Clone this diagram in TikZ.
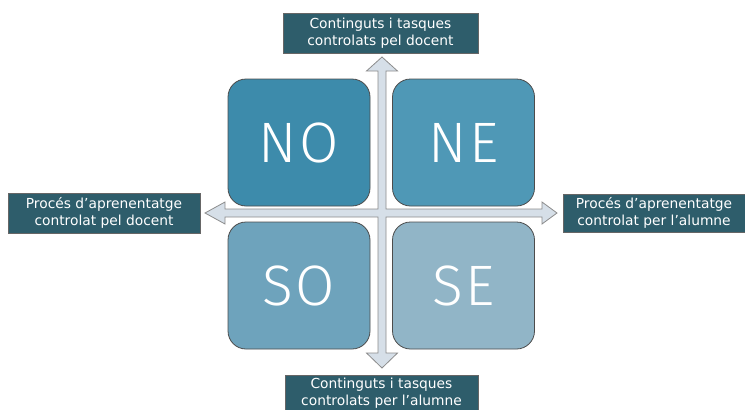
\documentclass[tikz,border=0pt]{standalone}
\usepackage{fontspec}
\setmainfont{DejaVu Sans}
\newfontfamily\bigfont[LetterSpace = 4]{Fira Sans Light}
\usetikzlibrary{shadows}

\definecolor{cno}{HTML}{3D8BAB}
\definecolor{cne}{HTML}{4F98B6}
\definecolor{cso}{HTML}{6EA3BC}
\definecolor{cse}{HTML}{91B5C7}
\definecolor{clab}{HTML}{2E5D6B}
\definecolor{carrow}{HTML}{D6DFE8}

\tikzset{
    quad/.style = {rounded corners = 18pt, minimum width = 142pt, minimum height = 127pt,
        draw = black!70, line width = 0.8pt, text = white,
        font = \bigfont\fontsize{57}{57}\selectfont},
    lab/.style = {fill = clab, draw = black!60, text = white, align = center,
        inner sep = 0pt, font = \fontsize{13.8}{16.5}\selectfont,
        drop shadow = {opacity = 0.3, shadow xshift = 1pt, shadow yshift = -1pt}}
}

\begin{document}
\begin{tikzpicture}[x = 1pt, y = -1pt]
        \useasboundingbox (0, 0) rectangle (745, 410);

        \begin{scope}[shift = {(382, 213)}]
            \draw[fill = carrow, draw = black!45, line width = 0.8pt, line join = miter]
                (4, -4) -- (4, -142) -- (15.5, -142) -- (0, -156) -- (-15.5, -142) -- (-4, -142)
                -- (-4, -4) -- (-157, -4) -- (-157, -11) -- (-177, 0) -- (-157, 11) -- (-157, 4)
                -- (-4, 4) -- (-4, 140) -- (-15.5, 140) -- (0, 155) -- (15.5, 140) -- (4, 140)
                -- (4, 4) -- (160, 4) -- (160, 11) -- (175, 0) -- (160, -11) -- (160, -4) -- cycle;
        \end{scope}

        \path (299, 142.5) node[quad, fill = cno] (no) {NO};
        \path (463.5, 142.5) node[quad, fill = cne] (ne) {NE};
        \path (299, 285.5) node[quad, fill = cso] (so) {SO};
        \path (463.5, 285.5) node[quad, fill = cse] (se) {SE};

        \path (380.5, 33) node[lab, minimum width = 195pt, minimum height = 40pt] (top)
            {Continguts i tasques\\controlats pel docent};
        \path (381.5, 393) node[lab, minimum width = 193pt, minimum height = 36pt] (bottom)
            {Continguts i tasques\\controlats per l’alumne};
        \path (104, 213) node[lab, minimum width = 192pt, minimum height = 40pt] (left)
            {Procés d’aprenentatge\\controlat pel docent};
        \path (654, 213) node[lab, minimum width = 182pt, minimum height = 38pt] (right)
            {Procés d’aprenentatge\\controlat per l’alumne};
    \end{tikzpicture}
\end{document}
